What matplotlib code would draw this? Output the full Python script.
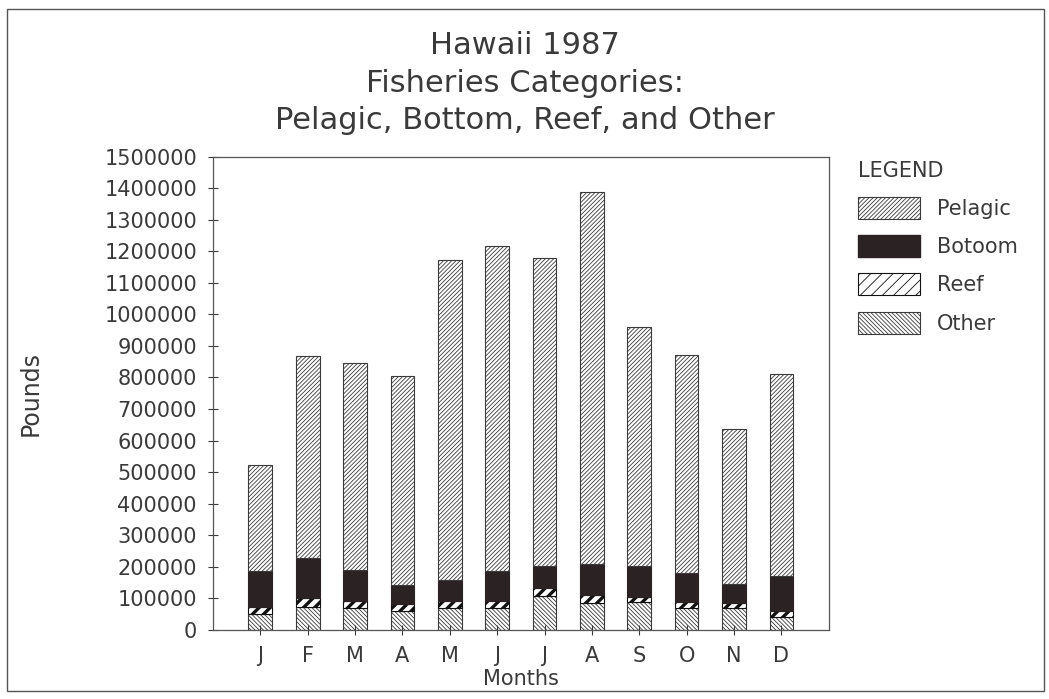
import matplotlib
matplotlib.use("Agg")
import matplotlib.pyplot as plt
from matplotlib.patches import Patch, Rectangle

months = ["J", "F", "M", "A", "M", "J", "J", "A", "S", "O", "N", "D"]

# pounds (stack order bottom -> top: Other, Reef, Bottom, Pelagic)
other = [51000, 71000, 69000, 61000, 69000, 69000, 106000, 85000, 87000, 69000, 69000, 42000]
reef = [20000, 29000, 23000, 20000, 21000, 23000, 26000, 26000, 16000, 19000, 16000, 19000]
bottom = [116000, 129000, 96000, 62000, 69000, 95000, 69000, 97000, 100000, 92000, 60000, 110000]
pelagic = [334000, 639000, 657000, 661000, 1013000, 1029000, 977000, 1179000, 756000, 690000, 493000, 639000]

y_ticks = list(range(0, 1500001, 100000))

ink = "#3a3a3a"
plt.rcParams["font.family"] = ["DejaVu Sans"]
plt.rcParams["hatch.color"] = "#555555"
plt.rcParams["hatch.linewidth"] = 0.6

fig = plt.figure(figsize=(10.49, 6.99), dpi=100)
ax = fig.add_axes([0.203, 0.099, 0.587, 0.677])

x = list(range(len(months)))
w = 0.5
base1 = other
base2 = [a + b for a, b in zip(other, reef)]
base3 = [a + b for a, b in zip(base2, bottom)]

ax.bar(x, other, w, color="white", edgecolor=ink, hatch="\\" * 8, linewidth=0.8)
with plt.rc_context({"hatch.linewidth": 2.4, "hatch.color": "#111111"}):
    ax.bar(x, reef, w, bottom=base1, color="white", edgecolor="#111111", hatch="///", linewidth=0.8)
ax.bar(x, bottom, w, bottom=base2, color="#2b2224", edgecolor="#2b2224", linewidth=0.8)
ax.bar(x, pelagic, w, bottom=base3, color="white", edgecolor=ink, hatch="/" * 8, linewidth=0.8)

ax.set_xlim(-1, 12)
ax.set_ylim(0, 1500000)
ax.set_yticks(y_ticks)
ax.set_yticklabels([str(v) for v in y_ticks])
ax.set_xticks(x)
ax.set_xticklabels(months)
ax.tick_params(axis="both", direction="inout", length=7, width=0.8, colors=ink,
               labelsize=15, pad=8)
for s in ax.spines.values():
    s.set_color("#555555")
    s.set_linewidth(0.9)

ax.set_ylabel("Pounds", fontsize=17, color=ink, labelpad=44,
              family=["Liberation Sans Narrow", "DejaVu Sans"])
ax.set_xlabel("Months", fontsize=15, color=ink, labelpad=2)

fig.text(0.5, 0.881, "Hawaii 1987\nFisheries Categories:\nPelagic, Bottom, Reef, and Other",
         ha="center", va="center", fontsize=22, color=ink, linespacing=1.38)

with plt.rc_context({"hatch.linewidth": 2.4, "hatch.color": "#111111"}):
    handles = [
        Patch(facecolor="white", edgecolor=ink, hatch="/" * 8, linewidth=0.8, label="Pelagic"),
        Patch(facecolor="#2b2224", edgecolor="#2b2224", label="Botoom"),
        Patch(facecolor="white", edgecolor="#111111", hatch="///", linewidth=0.8, label="Reef"),
        Patch(facecolor="white", edgecolor=ink, hatch="\\" * 8, linewidth=0.8, label="Other"),
    ]
leg = fig.legend(handles=handles, loc="upper left", bbox_to_anchor=(0.8, 0.797),
                 frameon=False, fontsize=15, title="LEGEND", title_fontsize=15,
                 handlelength=3.0, handleheight=1.25, labelspacing=0.78,
                 handletextpad=0.8, alignment="left")
for t in leg.get_texts():
    t.set_color(ink)
leg.get_title().set_color(ink)

fig.patches.append(Rectangle((0.007, 0.012), 0.988, 0.975, transform=fig.transFigure,
                             fill=False, edgecolor="#555555", linewidth=1.0))

fig.savefig("out.png", dpi=100)
